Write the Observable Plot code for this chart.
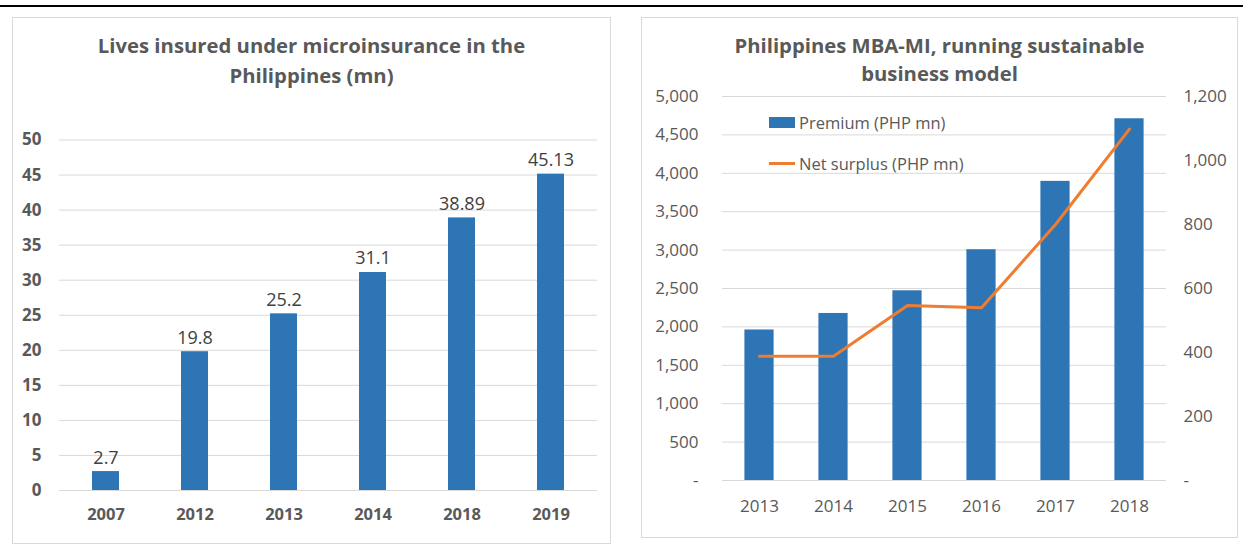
<!DOCTYPE html>
<html><head><meta charset="utf-8">
<script src="https://cdn.jsdelivr.net/npm/d3@7"></script>
<script src="https://cdn.jsdelivr.net/npm/@observablehq/plot@0.6"></script>
<style>
body{margin:0;background:#fff;width:1243px;height:546px;position:relative;overflow:hidden;font-family:"Open Sans",sans-serif;color:#595959}
.rule{position:absolute;left:0;top:5px;width:1243px;height:2px;background:#000}
.panel{position:absolute;border:1px solid #D9D9D9;box-sizing:border-box}
.title{position:absolute;font-weight:bold;font-size:20.3px;text-align:center;color:#595959;white-space:nowrap}
.chart{position:absolute}
.leg{position:absolute;font-size:16.5px;color:#595959;white-space:nowrap;line-height:20px}
</style></head><body>
<div class="rule"></div>
<div class="panel" style="left:12px;top:17px;width:599px;height:527px"></div>
<div class="panel" style="left:641px;top:17px;width:597px;height:521px"></div>
<div class="title" style="left:12px;width:599px;top:30px;line-height:30px">Lives insured under microinsurance in the<br>Philippines (mn)</div>
<div class="title" style="left:641px;width:597px;top:31px;line-height:28px">Philippines MBA-MI, running sustainable<br>business model</div>
<div class="chart" id="left" style="left:0;top:100px"></div>
<div class="chart" id="right" style="left:620px;top:80px"></div>
<div style="position:absolute;left:769px;top:117px;width:26px;height:11px;background:#2E75B6"></div>
<div class="leg" style="left:799px;top:113px">Premium (PHP mn)</div>
<div style="position:absolute;left:769px;top:162px;width:26px;height:3px;background:#ED7D31"></div>
<div class="leg" style="left:799px;top:154px">Net surplus (PHP mn)</div>
<script>
// Left chart data
const lifeYears = ["2007", "2012", "2013", "2014", "2018", "2019"];
const livesInsured = [2.7, 19.8, 25.2, 31.1, 38.89, 45.13];
const livesLabels = ["2.7", "19.8", "25.2", "31.1", "38.89", "45.13"];
const livesTicks = [0, 5, 10, 15, 20, 25, 30, 35, 40, 45, 50];

// Right chart data
const mbaYears = ["2013", "2014", "2015", "2016", "2017", "2018"];
const premium = [1960, 2175, 2470, 3005, 3895, 4710];
const surplus = [388, 388, 547, 540, 800, 1098];
const premiumTicks = [0, 500, 1000, 1500, 2000, 2500, 3000, 3500, 4000, 4500, 5000];
const surplusTicks = [0, 200, 400, 600, 800, 1000, 1200];

const blue = "#2E75B6", orange = "#ED7D31", grid = "#D9D9D9", txt = "#595959";

const lives = lifeYears.map((y, i) => ({year: y, value: livesInsured[i], label: livesLabels[i]}));
const leftPlot = Plot.plot({
  width: 620, height: 446,
  marginLeft: 59, marginRight: 23, marginTop: 39.5, marginBottom: 56,
  style: {fontFamily: "Open Sans", fontSize: "16px", color: txt, background: "transparent", overflow: "visible"},
  x: {domain: lifeYears, padding: 0, label: null},
  y: {domain: [0, 50], label: null},
  marks: [
    Plot.gridY(livesTicks, {stroke: grid, strokeOpacity: 1}),
    Plot.barY(lives, {x: "year", y: "value", fill: blue, insetLeft: 31, insetRight: 31}),
    Plot.text(lives, {x: "year", y: "value", text: "label", lineAnchor: "bottom", dy: -8, fill: "#404040", fontSize: 18}),
    Plot.axisY(livesTicks, {tickSize: 0, tickPadding: 18, fontWeight: "bold", fontSize: 17, fill: txt}),
    Plot.axisX({tickSize: 0, tickPadding: 18, fontWeight: "bold", fontSize: 16.5, fill: txt, label: null})
  ]
});
document.getElementById("left").appendChild(leftPlot);

const k = 5000 / 1200;
const mba = mbaYears.map((y, i) => ({year: y, premium: premium[i], surplus: surplus[i]}));
const fmt = d3.format(",");
const rightPlot = Plot.plot({
  width: 623, height: 466,
  marginLeft: 102, marginRight: 77, marginTop: 16, marginBottom: 66,
  style: {fontFamily: "Open Sans", fontSize: "17px", color: txt, background: "transparent", overflow: "visible"},
  x: {domain: mbaYears, padding: 0, label: null},
  y: {domain: [0, 5000], label: null},
  marks: [
    Plot.gridY(premiumTicks, {stroke: grid, strokeOpacity: 1}),
    Plot.barY(mba, {x: "year", y: "premium", fill: blue, insetLeft: 22.4, insetRight: 22.4}),
    Plot.line(mba, {x: "year", y: d => d.surplus * k, stroke: orange, strokeWidth: 3}),
    Plot.axisY(premiumTicks, {anchor: "left", tickSize: 0, tickPadding: 24, fontSize: 17, fill: txt,
      tickFormat: d => d === 0 ? "-" : fmt(d)}),
    Plot.axisY(surplusTicks.map(v => v * k), {anchor: "right", tickSize: 0, tickPadding: 17, fontSize: 17, fill: txt,
      tickFormat: d => { const v = Math.round(d / k); return v === 0 ? "-" : fmt(v); }}),
    Plot.axisX({tickSize: 0, tickPadding: 19, fontSize: 17, fill: txt, label: null})
  ]
});
document.getElementById("right").appendChild(rightPlot);
</script>
</body></html>
